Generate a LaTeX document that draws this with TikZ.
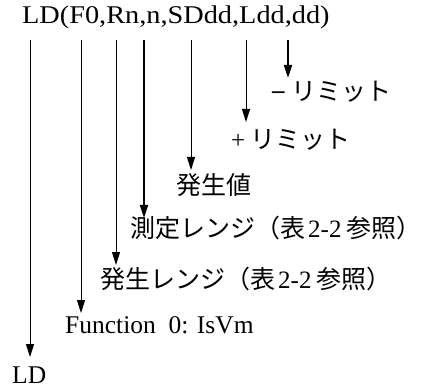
\documentclass[tikz,border=0pt]{standalone}
\usepackage{fontspec}
\setmainfont{Liberation Serif}
\newfontfamily\topfont[FakeStretch=1.11]{Liberation Serif}
\newfontfamily\jp{Noto Sans CJK JP}
\usetikzlibrary{arrows.meta}
\tikzset{
  lbl/.style={anchor=base west, inner sep=0pt, font=\fontsize{25.5}{30}\selectfont},
  jlbl/.style={anchor=base west, inner sep=0pt, font=\fontsize{25}{30}\selectfont},
  arr/.style={draw=black, line width=1pt, -{Triangle[length=13pt,width=8pt]}},
  thickarr/.style={arr, line width=2pt},
}
\begin{document}
\begin{tikzpicture}[x=1pt,y=-1pt]
\useasboundingbox (0,0) rectangle (423,390);
% labels
\node[lbl, font=\topfont\fontsize{25.5}{30}\selectfont] (top) at (22,24) {LD(F0,Rn,n,SDdd,Ldd,dd)};
\node[jlbl] (minus) at (272,101) {\raisebox{2.5pt}{\textbf{–}}\hspace{7pt}{\jp リミット}};
\node[jlbl] (plus) at (231,149) {+\hspace{5pt}{\jp リミット}};
\node[jlbl] (gen) at (176,195) {\jp 発生値};
\node[jlbl] (meas) at (130,237) {{\jp 測定レンジ（表}\hspace{3pt}2-2\hspace{5pt}{\jp 参照）}};
\node[jlbl] (grange) at (100,288) {{\jp 発生レンジ（表}\hspace{3pt}2-2\hspace{5pt}{\jp 参照）}};
\node[lbl] (func) at (65,333) {Function\ \ 0: IsVm};
\node[lbl] (ld) at (12,383) {LD};
% arrow coordinates
\coordinate (a1) at (30,40);  \coordinate (b1) at (30,357);
\coordinate (a2) at (81,40);  \coordinate (b2) at (81,313);
\coordinate (a3) at (116,40); \coordinate (b3) at (116,265);
\coordinate (a4) at (144,40); \coordinate (b4) at (144,218);
\coordinate (a5) at (191,40); \coordinate (b5) at (191,170);
\coordinate (a6) at (246,40); \coordinate (b6) at (246,122);
\coordinate (a7) at (288,40); \coordinate (b7) at (288,78);
\draw[arr] (a1) -- (b1);
\draw[arr] (a2) -- (b2);
\draw[arr] (a3) -- (b3);
\draw[thickarr] (a4) -- (b4);
\draw[arr] (a5) -- (b5);
\draw[arr] (a6) -- (b6);
\draw[thickarr] (a7) -- (b7);
\end{tikzpicture}
\end{document}
